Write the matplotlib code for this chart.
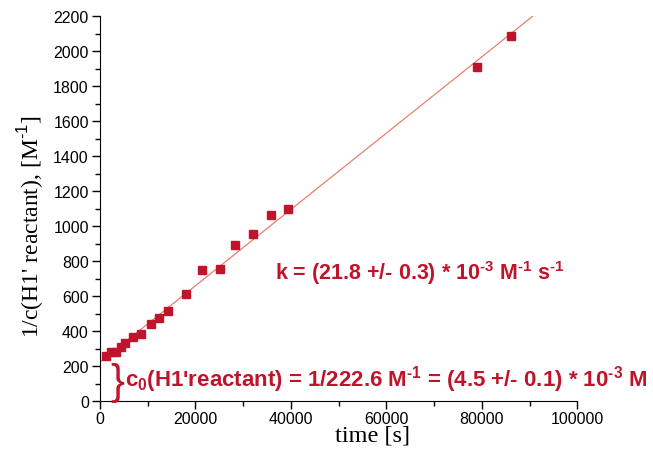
import matplotlib
matplotlib.use("Agg")
import matplotlib.pyplot as plt
import numpy as np
from matplotlib.ticker import MultipleLocator

# measured points: time [s] vs 1/c [M^-1]
time_s = [1200, 2400, 3400, 4400, 5300, 7000, 8700, 10600, 12400, 14200,
          18000, 21400, 25100, 28400, 32100, 35800, 39400, 79000, 86100]
inv_c = [255, 280, 278, 310, 333, 368, 381, 440, 476, 514,
         614, 750, 757, 890, 952, 1063, 1100, 1907, 2086]

# linear fit reported in the figure
intercept = 222.6
slope = 21.8e-3
fit_x = [0, 92000]

red = "#c0142c"
fit_red = "#e48070"

plt.rcParams["font.family"] = "Liberation Sans"
plt.rcParams["mathtext.fontset"] = "custom"
plt.rcParams["mathtext.rm"] = "Liberation Sans"
plt.rcParams["mathtext.bf"] = "Liberation Sans:bold"

fig = plt.figure(figsize=(6.53, 4.60), dpi=100)
ax = fig.add_axes([0.153, 0.126, 0.731, 0.837])

fx = np.array(fit_x)
ax.plot(fx, intercept + slope * fx, color=fit_red, lw=0.9, zorder=2)
ax.plot(time_s, inv_c, "s", color=red, markersize=5.5, zorder=3)

ax.set_xlim(0, 100000)
ax.set_ylim(0, 2200)
ax.xaxis.set_major_locator(MultipleLocator(20000))
ax.xaxis.set_minor_locator(MultipleLocator(10000))
ax.yaxis.set_major_locator(MultipleLocator(200))
ax.yaxis.set_minor_locator(MultipleLocator(100))
ax.tick_params(which="major", direction="out", length=6, width=1,
               labelsize=11.5)
ax.tick_params(axis="x", which="major", pad=1)
ax.tick_params(axis="y", which="major", pad=2)
ax.tick_params(which="minor", direction="out", length=3.5, width=1)
ax.spines["top"].set_visible(False)
ax.spines["right"].set_visible(False)

hy = "\u2010"
ax.set_xlabel("time [s]", family="Liberation Serif", fontsize=17.5)
ax.xaxis.set_label_coords(0.572, -0.062)
ax.set_ylabel("1/c(H1' reactant), [M$^{\\mathrm{%s1}}$]" % hy,
              family="Liberation Serif", fontsize=17)
ax.yaxis.set_label_coords(-0.112, 0.455)

ax.text(36700, 737,
        "k = (21.8 +/- 0.3) * 10$^{\\mathbf{%s3}}$ M$^{\\mathbf{%s1}}$ s$^{\\mathbf{%s1}}$"
        % (hy, hy, hy),
        color=red, fontsize=15.5, fontweight="bold", va="center",
        clip_on=False)
ax.text(2200, intercept / 2, "}", color=red, fontsize=30, va="center",
        ha="left", clip_on=False)
ax.text(5300, 126,
        "c$_{\\mathbf{0}}$(H1'reactant) = 1/222.6 M$^{\\mathbf{%s1}}$ = (4.5 +/- 0.1) * 10$^{\\mathbf{%s3}}$ M"
        % (hy, hy),
        color=red, fontsize=16, fontweight="bold", va="center",
        clip_on=False)

fig.savefig("out.png", dpi=100)
